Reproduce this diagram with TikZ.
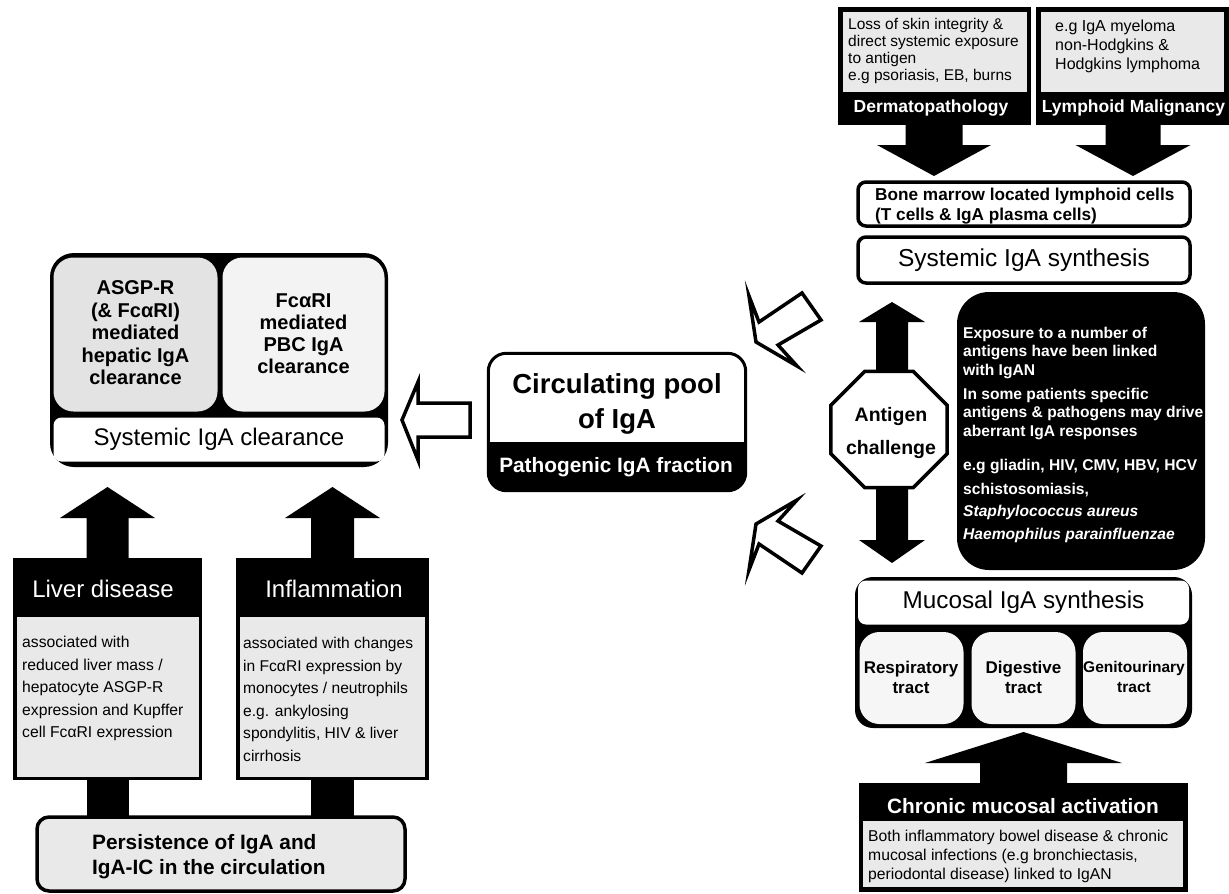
\documentclass[tikz,border=0pt]{standalone}
\usepackage{fontspec}
\setmainfont{Liberation Sans}
\usetikzlibrary{shapes.geometric}
\newcommand\fsz[2]{\fontsize{#1}{#2}\selectfont}
\definecolor{boxgray}{HTML}{E9E9E9}
\definecolor{cellA}{HTML}{E3E3E3}
\definecolor{cellB}{HTML}{F3F3F3}
\definecolor{tractfill}{HTML}{F6F6F6}
% block arrow: centre x, tip y, head-base y, tail y, head half width, shaft half width
\newcommand\vblockarrow[6]{%
  \fill[black] (#1,#2) -- ({#1+#5},#3) -- ({#1+#6},#3) -- ({#1+#6},#4)
   -- ({#1-#6},#4) -- ({#1-#6},#3) -- ({#1-#5},#3) -- cycle;}
\tikzset{
  blk/.style={rectangle, fill=black, draw=none, inner sep=0pt},
  grayin/.style={rectangle, fill=boxgray, draw=none, inner sep=0pt},
  whitebox/.style={rectangle, rounded corners=8pt, fill=white, draw=black, line width=3.5pt, inner sep=0pt},
  cellbox/.style={rectangle, rounded corners=20pt, draw=none, inner sep=0pt},
  txt/.style={inner sep=0pt, align=center},
  ltxt/.style={inner sep=0pt, align=left, anchor=west},
  hollow/.style={draw=black, line width=3.5pt, fill=white, line join=miter},
}
\begin{document}
\begin{tikzpicture}[x=1pt,y=-1pt]
\useasboundingbox (0,0) rectangle (1229,894);

%% ---------------- top right ----------------
\node[blk, minimum width=193, minimum height=118] (derm) at (934.5,66) {};
\node[grayin, minimum width=184, minimum height=80] (dermin) at (935,52) {};
\node[ltxt, font=\fsz{15.5}{17}] (dermtxt) at (848,51)
  {Loss of skin integrity \&\\direct systemic exposure\\to antigen\\e.g psoriasis, EB, burns};
\node[txt, text=white, font=\bfseries\fsz{17.5}{20}] (dermlab) at (931,108) {Dermatopathology};

\node[blk, minimum width=193, minimum height=118] (lymph) at (1132.5,66) {};
\node[grayin, minimum width=183, minimum height=80] (lymphin) at (1132.5,52) {};
\node[ltxt, font=\fsz{16}{19}] (lymphtxt) at (1055,46)
  {e.g IgA myeloma\\non-Hodgkins \&\\Hodgkins lymphoma};
\node[txt, text=white, font=\bfseries\fsz{17.5}{20}] (lymphlab) at (1133.5,108) {Lymphoid Malignancy};

\vblockarrow{934}{176}{145}{125}{57}{28.5}
\vblockarrow{1133}{176}{145}{125}{57.5}{27.5}

\node[whitebox, minimum width=332, minimum height=44] (bone) at (1024,204) {};
\node[ltxt, font=\bfseries\fsz{17.2}{20}] (bonetxt) at (875,206)
  {Bone marrow located lymphoid cells\\(T cells \& IgA plasma cells)};
\node[whitebox, minimum width=332, minimum height=46, font=\fsz{24.5}{28}] (sysynth) at (1024,260) {Systemic IgA synthesis};

%% ---------------- antigen challenge ----------------
\vblockarrow{892}{302}{322}{372}{33}{16}
\vblockarrow{892}{563}{540}{488}{33}{16}
\node[regular polygon, regular polygon sides=8, minimum size=126, inner sep=0pt,
      draw=black, line width=3.5pt, fill=white] (antigen) at (889,429.5) {};
\node[txt, font=\bfseries\fsz{19.5}{33}] (antigentxt) at (891,433) {Antigen\\challenge};

\node[rectangle, rounded corners=32pt, fill=black, minimum width=248, minimum height=278, inner sep=0pt] (agbox) at (1081,431) {};
\node[ltxt, text=white, font=\bfseries\fsz{15.6}{18.5}] (agtxt) at (963,434.5)
  {Exposure to a number of\\antigens have been linked\\with IgAN\\[5.5pt]In some patients specific\\antigens \& pathogens may drive\\aberrant IgA responses\\[15.5pt]e.g gliadin, HIV, CMV, HBV, HCV\\[5.5pt]schistosomiasis,\\[3.5pt]\textit{Staphylococcus aureus}\\[4.5pt]\textit{Haemophilus parainfluenzae}};

%% ---------------- mucosal ----------------
\node[rectangle, rounded corners=18pt, fill=black, minimum width=337, minimum height=151, inner sep=0pt] (mucgrp) at (1023.5,652.5) {};
\node[rectangle, rounded corners=8pt, fill=white, minimum width=331, minimum height=44, inner sep=0pt, font=\fsz{24.3}{28}] (mucsynth) at (1023.5,602.5) {Mucosal IgA synthesis};
\node[cellbox, fill=tractfill, minimum width=104, minimum height=92] (resp) at (911.5,678) {};
\node[cellbox, fill=tractfill, minimum width=104, minimum height=92] (dig) at (1023.5,678) {};
\node[cellbox, fill=tractfill, minimum width=104, minimum height=92] (gen) at (1135,678) {};
\node[txt, font=\bfseries\fsz{17}{20}] (resptxt) at (911,677) {Respiratory\\tract};
\node[txt, font=\bfseries\fsz{17}{20}] (digtxt) at (1023.5,677) {Digestive\\tract};
\node[txt, font=\bfseries\fsz{15.5}{20}] (gentxt) at (1134,677) {Genitourinary\\tract};

\vblockarrow{1023.5}{732}{763}{785}{98.5}{43.5}

\node[blk, minimum width=329, minimum height=109] (chronic) at (1023.5,837.5) {};
\node[grayin, minimum width=320, minimum height=66] (chronicin) at (1023,854) {};
\node[txt, text=white, font=\bfseries\fsz{20.8}{24}] (chroniclab) at (1023,806) {Chronic mucosal activation};
\node[ltxt, font=\fsz{15.7}{19}] (chronictxt) at (868,856)
  {Both inflammatory bowel disease \& chronic\\mucosal infections (e.g bronchiectasis,\\periodontal disease) linked to IgAN};

%% ---------------- hollow arrows ----------------
\draw[hollow] (756,342) -- (749,296) -- (759,322) -- (802,293) -- (821,320) -- (778,345) -- (797,366) -- cycle;
\draw[hollow] (756,524) -- (749,570) -- (759,544) -- (802,573) -- (821,546) -- (778,521) -- (797,500) -- cycle;

%% ---------------- circulating pool ----------------
\node[rectangle, rounded corners=18pt, fill=white, minimum width=257, minimum height=137, inner sep=0pt] (pool) at (617,422) {};
\begin{scope}
  \clip[rounded corners=18pt] (488.5,353.5) rectangle (745.5,490.5);
  \fill[black] (480,442) rectangle (750,495);
\end{scope}
\draw[line width=3pt, rounded corners=18pt] (pool.north west) rectangle (pool.south east);
\node[txt, font=\bfseries\fsz{27.5}{35}] (pooltxt) at (617,404) {Circulating pool\\of IgA};
\node[txt, text=white, font=\bfseries\fsz{20.8}{24}] (pathtxt) at (616,467) {Pathogenic IgA fraction};

\draw[hollow] (402,420) -- (418,382) -- (418,403) -- (470,403) -- (470,437) -- (418,437) -- (418,460) -- cycle;

%% ---------------- left clearance ----------------
\node[rectangle, rounded corners=24pt, fill=black, minimum width=338, minimum height=214, inner sep=0pt] (clrgrp) at (219,360) {};
\node[cellbox, fill=cellA, minimum width=164, minimum height=154] (asgp) at (135.5,334.5) {};
\node[cellbox, fill=cellB, minimum width=162, minimum height=154] (fcar) at (303.5,334.5) {};
\node[rectangle, rounded corners=8pt, fill=white, minimum width=331, minimum height=44, inner sep=0pt, font=\fsz{24}{28}] (sysclr) at (219,439.5) {Systemic IgA clearance};
\node[txt, font=\bfseries\fsz{20}{22.5}] (asgptxt) at (135.5,333) {ASGP-R\\(\& FcαRI)\\mediated\\hepatic IgA\\clearance};
\node[txt, font=\bfseries\fsz{20}{22}] (fcartxt) at (303.5,334) {FcαRI\\mediated\\PBC IgA\\clearance};

%% ---------------- bottom left ----------------
\vblockarrow{107.5}{487}{518}{560}{47.5}{21}
\vblockarrow{332.5}{487}{518}{560}{47.5}{21.5}
\fill[black] (86.5,778) rectangle (128.5,818);
\fill[black] (311,778) rectangle (354,818);

\node[blk, minimum width=189, minimum height=222] (liver) at (107.5,669) {};
\node[grayin, minimum width=182, minimum height=160] (liverin) at (108,697) {};
\node[txt, text=white, font=\fsz{24}{28}] (liverlab) at (103,589) {Liver disease};
\node[ltxt, font=\fsz{15.7}{22.5}] (livertxt) at (22,688.5)
  {associated with\\reduced liver mass /\\hepatocyte ASGP-R\\expression and Kupffer\\cell FcαRI expression};

\node[blk, minimum width=193, minimum height=222] (infl) at (332.5,669) {};
\node[grayin, minimum width=185, minimum height=160] (inflin) at (332.5,697) {};
\node[txt, text=white, font=\fsz{24}{28}] (infllab) at (334,589) {Inflammation};
\node[ltxt, font=\fsz{15.6}{22.5}] (infltxt) at (243,699.5)
  {associated with changes\\in FcαRI expression by\\monocytes / neutrophils\\e.g. ankylosing\\spondylitis, HIV \& liver\\cirrhosis};

\node[rectangle, rounded corners=12pt, fill=boxgray, draw=black, line width=3.5pt, minimum width=368, minimum height=74, inner sep=0pt] (persist) at (221,854) {};
\node[ltxt, font=\bfseries\fsz{20.8}{25}] (persisttxt) at (92,856.5)
  {Persistence of IgA and\\IgA-IC in the circulation};
\end{tikzpicture}
\end{document}
